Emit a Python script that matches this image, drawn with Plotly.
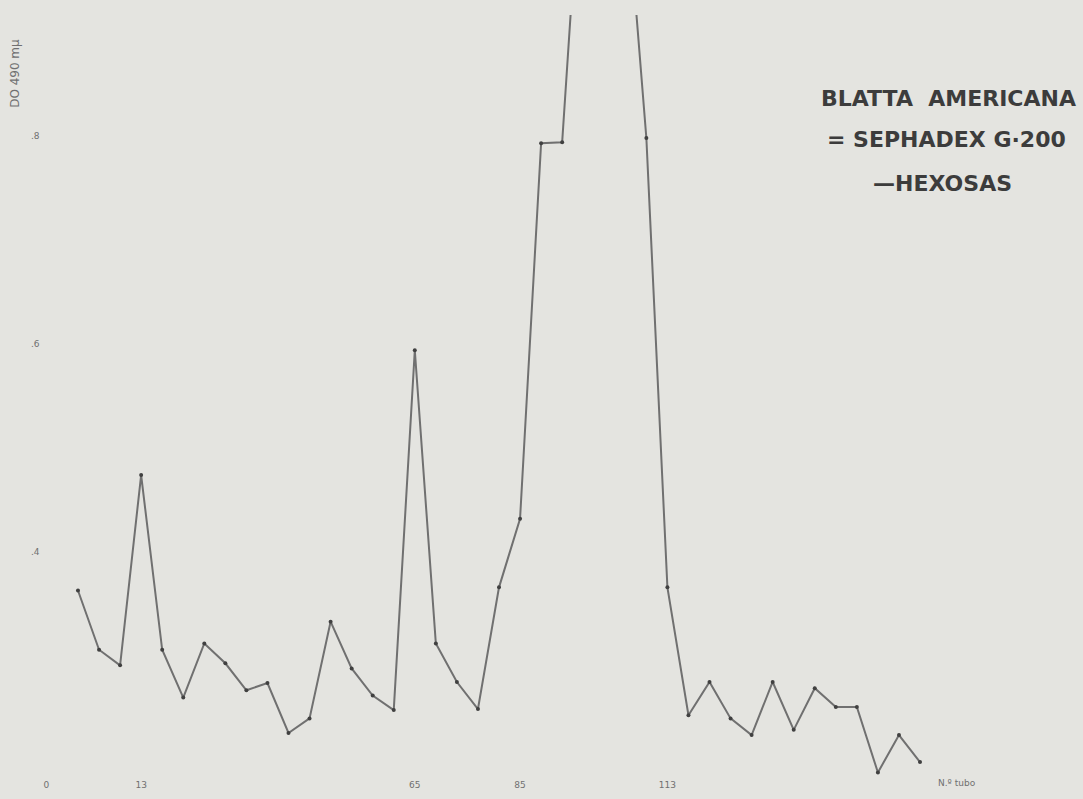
import plotly.graph_objects as go

# Tube numbers (x) and hexose optical density (y); values above the frame are off-scale
tubes = [1, 5, 9, 13, 17, 21, 25, 29, 33, 37, 41, 45, 49, 53, 57, 61, 65, 69, 73, 77,
         81, 85, 89, 93, 97, 101, 105, 109, 113, 117, 121, 125, 129, 133, 137, 141,
         145, 149, 153, 157, 161]
hexosas = [0.363, 0.306, 0.291, 0.474, 0.306, 0.260, 0.312, 0.293, 0.267, 0.274,
           0.226, 0.240, 0.333, 0.288, 0.262, 0.248, 0.594, 0.312, 0.275, 0.249,
           0.366, 0.432, 0.793, 0.794, 1.10, 1.25, 1.05, 0.798, 0.366, 0.243,
           0.275, 0.240, 0.224, 0.275, 0.229, 0.269, 0.251, 0.251, 0.188, 0.224, 0.198]

x_tickvals = [-5, 13, 65, 85, 113]
x_ticktext = ["0", "13", "65", "85", "113"]
y_tickvals = [0.4, 0.6, 0.8]
y_ticktext = [".4", ".6", ".8"]

legend_lines = ["BLATTA  AMERICANA", "= SEPHADEX G·200", "—HEXOSAS"]

bg = "#e4e4e0"
fig = go.Figure()
fig.add_trace(go.Scatter(
    x=tubes, y=hexosas, mode="lines+markers",
    line=dict(color="#707070", width=2),
    marker=dict(color="#404040", size=4),
    showlegend=False, hoverinfo="skip"))

fig.update_layout(
    width=1083, height=799,
    margin=dict(l=0, r=0, t=15, b=0),
    paper_bgcolor=bg, plot_bgcolor=bg,
    font=dict(family="DejaVu Sans", color="#6a6a6a"),
    xaxis=dict(range=[-13.82, 191.97], showgrid=False, zeroline=False, showline=False,
               tickmode="array", tickvals=x_tickvals, ticktext=x_ticktext,
               ticks="", ticklabelposition="inside", ticklabelstandoff=6,
               tickfont=dict(size=9, color="#707070")),
    yaxis=dict(range=[0.1625, 0.9163], showgrid=False, zeroline=False, showline=False,
               tickmode="array", tickvals=y_tickvals, ticktext=y_ticktext,
               ticks="", ticklabelposition="inside", ticklabelstandoff=28,
               tickfont=dict(size=9, color="#707070")),
)

ys = [0.894, 0.8406, 0.7857]
xs = [0.876, 0.874, 0.870]
for t, xp, yp in zip(legend_lines, xs, ys):
    fig.add_annotation(text="<b>%s</b>" % t, x=xp, y=yp, xref="paper", yref="paper",
                       showarrow=False, xanchor="center", yanchor="middle",
                       font=dict(size=22, color="#3c3c3c", family="DejaVu Sans"))

fig.add_annotation(text="DO 490 mμ", x=0.0139, y=0.925, xref="paper", yref="paper",
                   showarrow=False, textangle=-90, xanchor="center", yanchor="middle",
                   font=dict(size=12, color="#707070"))
fig.add_annotation(text="N.º tubo", x=0.884, y=0.021, xref="paper", yref="paper",
                   showarrow=False, xanchor="center", yanchor="middle",
                   font=dict(size=9, color="#707070"))

fig.write_html("out.html", config={"displayModeBar": False},
               post_script="document.body.style.margin='0';document.body.style.overflow='hidden';")
